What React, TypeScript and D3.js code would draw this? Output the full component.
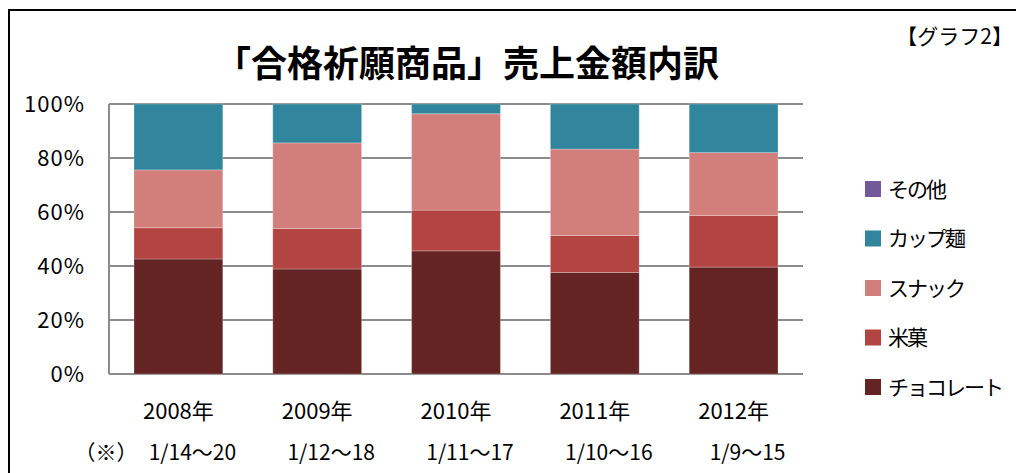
import React from "react";
import * as d3 from "d3";

const categories = ["2008年", "2009年", "2010年", "2011年", "2012年"];
const dateLabels = ["1/14～20", "1/12～18", "1/11～17", "1/10～16", "1/9～15"];
const seriesNames = ["チョコレート", "米菓", "スナック", "カップ麺", "その他"];
const chocolate = [42.6, 38.9, 45.6, 37.6, 39.6];
const riceCracker = [11.6, 15.0, 15.1, 13.7, 19.1];
const snack = [21.4, 31.7, 35.7, 32.0, 23.3];
const cupNoodle = [24.4, 14.4, 3.6, 16.7, 18.0];
const other = [0, 0, 0, 0, 0];
const colors = ["#632423", "#B24442", "#D27E7B", "#31859C", "#72599A"];
const yTicks = [0, 20, 40, 60, 80, 100];

const W = 1016;
const H = 473;
const FONT = "'Noto Sans CJK JP', 'Noto Sans', sans-serif";

export default function App() {
  const plot = { left: 109, right: 803, top: 104, bottom: 374 };
  const x = d3
    .scaleBand<string>()
    .domain(categories)
    .range([plot.left, plot.right])
    .paddingInner(0.36)
    .paddingOuter(0.18);
  const y = d3.scaleLinear().domain([0, 100]).range([plot.bottom, plot.top]);

  const table = categories.map((c, i) => ({
    cat: c,
    [seriesNames[0]]: chocolate[i],
    [seriesNames[1]]: riceCracker[i],
    [seriesNames[2]]: snack[i],
    [seriesNames[3]]: cupNoodle[i],
    [seriesNames[4]]: other[i],
  }));
  const stack = d3.stack<any>().keys(seriesNames);
  const layers = stack(table as any);

  const legendOrder = [...seriesNames].reverse();
  const legendY = d3.scalePoint<string>().domain(legendOrder).range([189, 387]);

  return (
    <svg
      width={W}
      height={H}
      style={{ position: "absolute", left: 0, top: 0, background: "#fff" }}
      fontFamily={FONT}
    >
      <rect x={0} y={0} width={W} height={H} fill="#fff" />
      {/* outer frame */}
      <rect x={9} y={10} width={W + 20} height={H + 20} fill="none" stroke="#000" strokeWidth={2} />

      {/* title */}
      <text x={467} y={77} textAnchor="middle" fontSize={36} fontWeight="bold" fill="#000">
        「合格祈願商品」売上金額内訳
      </text>
      <text x={1013} y={44} textAnchor="end" fontSize={21} fill="#000">
        【グラフ2】
      </text>

      {/* gridlines */}
      {yTicks.map((t) => (
        <line key={t} x1={plot.left} x2={plot.right} y1={y(t)} y2={y(t)} stroke="#8c8c8c" strokeWidth={2} />
      ))}
      <line x1={plot.left} x2={plot.left} y1={plot.top} y2={plot.bottom} stroke="#8c8c8c" strokeWidth={2} />

      {/* bars */}
      {layers.map((layer, li) => (
        <g key={layer.key} fill={colors[li]}>
          {layer.map((d, i) => {
            const h = y(d[0]) - y(d[1]);
            if (h <= 0) return null;
            return (
              <rect
                key={i}
                x={x(categories[i])}
                y={y(d[1])}
                width={x.bandwidth()}
                height={h}
                stroke="rgba(255,255,255,0.25)"
                strokeWidth={1}
              />
            );
          })}
        </g>
      ))}

      {/* y tick labels */}
      {yTicks.map((t) => (
        <text key={t} x={85} y={y(t)} dy="0.36em" textAnchor="end" fontSize={22} letterSpacing={1} fill="#000">
          {t + "%"}
        </text>
      ))}

      {/* category labels */}
      {categories.map((c) => (
        <text key={c} x={x(c)! + x.bandwidth() / 2} y={419} textAnchor="middle" fontSize={22} fill="#000">
          {c}
        </text>
      ))}
      <text x={106} y={460} textAnchor="middle" fontSize={21} fill="#000">
        （※）
      </text>
      {dateLabels.map((dl, i) => (
        <text
          key={dl}
          x={x(categories[i])! + x.bandwidth() / 2 + 14}
          y={460}
          textAnchor="middle"
          fontSize={21}
          fill="#000"
        >
          {dl}
        </text>
      ))}

      {/* legend */}
      {legendOrder.map((name) => {
        const idx = seriesNames.indexOf(name);
        const cy = legendY(name)!;
        return (
          <g key={name}>
            <rect x={865} y={cy - 8} width={16} height={16} fill={colors[idx]} />
            <text x={888} y={cy} dy="0.36em" fontSize={21} letterSpacing={-2} fill="#000">
              {name}
            </text>
          </g>
        );
      })}
    </svg>
  );
}
